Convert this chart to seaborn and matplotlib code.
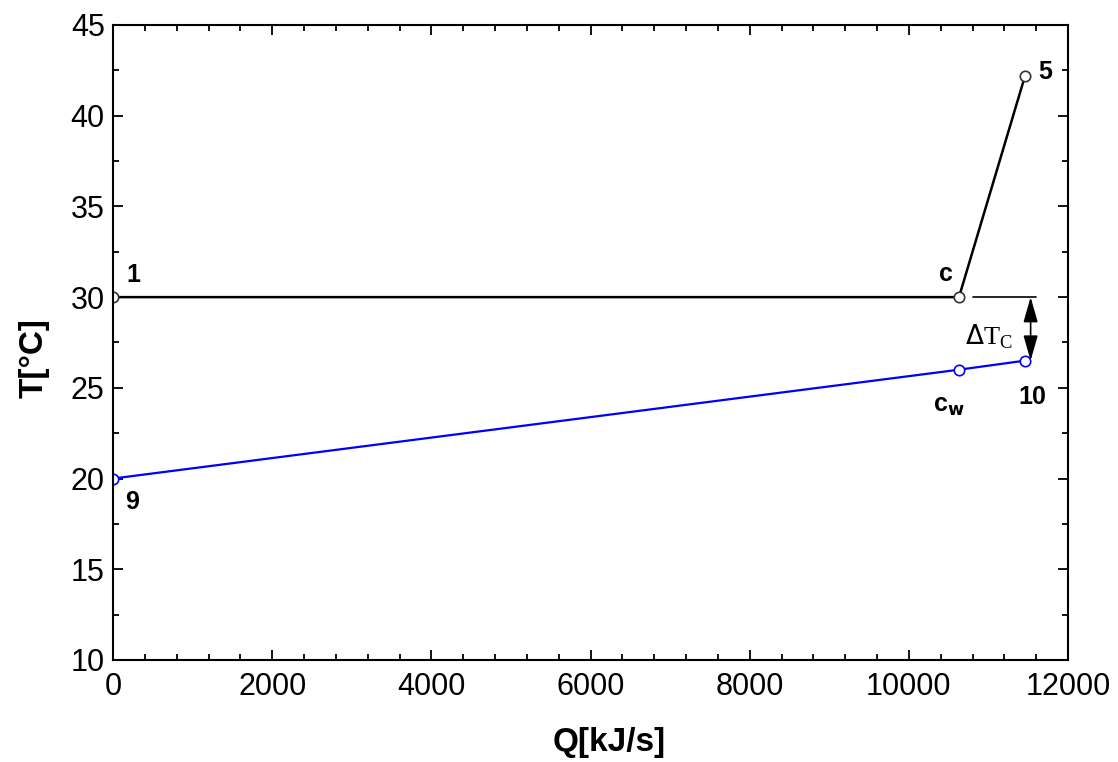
import numpy as np
import pandas as pd
import matplotlib
matplotlib.use("Agg")
import matplotlib.pyplot as plt
import seaborn as sns

# refrigerant side: 1 -> c -> 5
q_ref = [0, 10630, 11460]
t_ref = [30.0, 30.0, 42.2]
# cooling water side: 9 -> c_w -> 10
q_water = [0, 10630, 11460]
t_water = [20.0, 26.0, 26.5]

sns.set_theme(style="ticks")
plt.rcParams['font.family'] = ['Liberation Sans', 'DejaVu Sans']
plt.rcParams['text.color'] = 'black'
plt.rcParams['axes.labelcolor'] = 'black'
plt.rcParams['xtick.color'] = 'black'
plt.rcParams['ytick.color'] = 'black'

fig = plt.figure(figsize=(11.18, 7.62), dpi=100)
ax = fig.add_axes([0.1011, 0.1339, 0.8542, 0.8333])

sns.lineplot(x=q_ref, y=t_ref, ax=ax, color="black", linewidth=1.8, sort=False,
             marker="o", markersize=7.5, markerfacecolor="white",
             markeredgecolor="#333333", markeredgewidth=1.2)
sns.lineplot(x=q_water, y=t_water, ax=ax, color="#0000ff", linewidth=1.6, sort=False,
             marker="o", markersize=7.5, markerfacecolor="white",
             markeredgecolor="#0000ff", markeredgewidth=1.2)

# delta T pinch marker
ax.plot([10800, 11600], [t_ref[1], t_ref[1]], color="black", linewidth=1.2)
ax.annotate("", xy=(11530, t_water[2]), xytext=(11530, t_ref[1]),
            arrowprops=dict(arrowstyle="<|-|>,head_length=0.7,head_width=0.2",
                            color="black", lw=1.2,
                            mutation_scale=22, shrinkA=0, shrinkB=0))
ax.text(11010, 27.8, r"$\Delta$T$_\mathregular{C}$", fontsize=19,
        family=["Liberation Serif", "DejaVu Serif"], ha="center", va="center")

lbl = dict(fontsize=18, fontweight="bold", ha="center", va="center")
ax.text(250, 31.2, "1", **lbl)
ax.text(240, 18.7, "9", **lbl)
ax.text(10467, 31.3, "c", **lbl)
ax.text(11711, 42.4, "5", **lbl)
ax.text(10500, 24.0, r"c$_\mathbf{w}$", **lbl)
ax.text(11548, 24.5, "10", **lbl)

ax.set_xlim(0, 12000)
ax.set_ylim(10, 45)
ax.set_xticks(np.arange(0, 12001, 2000))
ax.set_xticks(np.arange(0, 12001, 400), minor=True)
ax.set_yticks(np.arange(10, 46, 5))
ax.set_yticks(np.arange(10, 45.1, 2.5), minor=True)

ax.tick_params(which="both", direction="in", top=True, right=True, color="black", width=1.3)
ax.tick_params(which="major", length=7, labelsize=22)
ax.tick_params(axis="x", which="major", pad=9)
ax.tick_params(axis="y", which="major", pad=6)
ax.tick_params(which="minor", length=4)
for s in ax.spines.values():
    s.set_linewidth(1.5)
    s.set_color("black")

ax.set_xlabel("Q[kJ/s]", fontsize=24, fontweight="bold")
ax.set_ylabel("T[°C]", fontsize=24, fontweight="bold")
ax.xaxis.set_label_coords(0.52, -0.105)
ax.yaxis.set_label_coords(-0.066, 0.475)

fig.savefig("out.png", dpi=100)
